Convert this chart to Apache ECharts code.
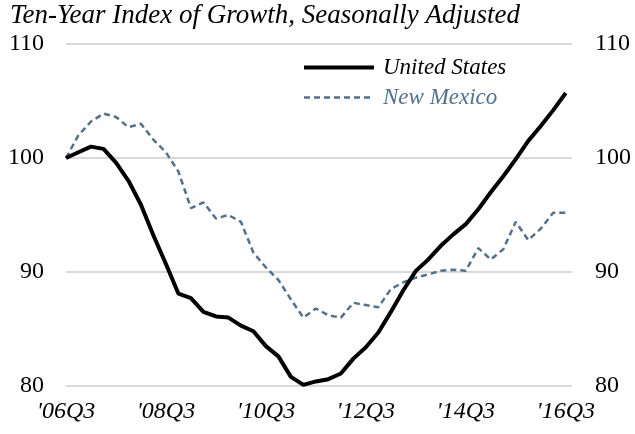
<!DOCTYPE html>
<html>
<head>
<meta charset="utf-8">
<script src="https://cdn.jsdelivr.net/npm/echarts@6/dist/echarts.min.js"></script>
<style>
	html, body { margin: 0; padding: 0; background: #fff; }
	#chart { width: 635px; height: 434px; }
</style>
</head>
<body>
<div id="chart"></div>
<script>
// quarters '06Q3 .. '16Q3
var quarters = [];
for (var y = 6; y <= 16; y++) {
	for (var q = 1; q <= 4; q++) {
		if ((y === 6 && q < 3) || (y === 16 && q > 3)) continue;
		quarters.push("'" + (y < 10 ? '0' + y : y) + 'Q' + q);
	}
}
var unitedStates = [100.0, 100.5, 101.0, 100.8, 99.6, 98.0, 95.9, 93.2, 90.7, 88.1,
	87.7, 86.5, 86.1, 86.0, 85.3, 84.8, 83.5, 82.6, 80.8, 80.1,
	80.4, 80.6, 81.1, 82.4, 83.4, 84.7, 86.5, 88.4, 90.1, 91.1,
	92.3, 93.3, 94.2, 95.5, 97.0, 98.4, 99.9, 101.5, 102.8, 104.2, 105.7];
var newMexico = [100.0, 102.0, 103.2, 103.9, 103.6, 102.7, 103.0, 101.6, 100.5, 98.8,
	95.6, 96.1, 94.7, 95.0, 94.4, 91.7, 90.4, 89.3, 87.6, 86.0,
	86.8, 86.2, 86.0, 87.3, 87.1, 86.9, 88.5, 89.1, 89.5, 89.8,
	90.1, 90.2, 90.1, 92.1, 91.1, 92.0, 94.4, 92.8, 93.8, 95.2, 95.2];
var yTicks = [80, 90, 100, 110];

function pairs(arr) {
	return arr.map(function (v, i) { return [i, v]; });
}

var serif = "'Liberation Serif', 'Times New Roman', serif";
var chart = echarts.init(document.getElementById('chart'));
var option = {
	animation: false,
	title: {
		text: 'Ten-Year Index of Growth, Seasonally Adjusted',
		left: 10,
		top: 0,
		padding: [2, 0, 0, 0],
		textStyle: { fontFamily: serif, fontStyle: 'italic', fontWeight: 'normal', fontSize: 27, color: '#000' }
	},
	legend: {
		orient: 'vertical',
		left: 302,
		top: 56,
		padding: 0,
		itemWidth: 70,
		itemHeight: 14,
		itemGap: 7,
		itemStyle: { opacity: 0 },
		data: [
			{ name: 'United States', textStyle: { color: '#000' }, lineStyle: { width: 4 } },
			{ name: 'New Mexico', textStyle: { color: '#4f7195' }, lineStyle: { width: 2.5 } }
		],
		textStyle: { fontFamily: serif, fontStyle: 'italic', fontSize: 23, padding: [0, 0, 0, 4] }
	},
	grid: { left: 66, right: 63, top: 44, bottom: 48 },
	xAxis: {
		type: 'value',
		min: 0,
		max: 40.5,
		interval: 8,
		axisLine: { show: false },
		axisTick: { show: false },
		splitLine: { show: false },
		axisLabel: {
			margin: 14,
			fontFamily: serif,
			fontStyle: 'italic',
			fontSize: 24,
			color: '#000',
			formatter: function (v) { return quarters[v] || ''; }
		}
	},
	yAxis: [
		{
			type: 'value',
			min: yTicks[0],
			max: yTicks[yTicks.length - 1],
			interval: 10,
			axisLine: { show: false },
			axisTick: { show: false },
			axisLabel: { fontFamily: serif, fontSize: 24, color: '#000', margin: 22 },
			splitLine: { lineStyle: { color: '#d9d9d9', width: 2 } }
		},
		{
			type: 'value',
			position: 'right',
			min: yTicks[0],
			max: yTicks[yTicks.length - 1],
			interval: 10,
			axisLine: { show: false },
			axisTick: { show: false },
			axisLabel: { fontFamily: serif, fontSize: 24, color: '#000', margin: 23 },
			splitLine: { show: false }
		}
	],
	series: [
		{
			name: 'United States',
			type: 'line',
			data: pairs(unitedStates),
			symbol: 'none',
			lineStyle: { color: '#000', width: 4 },
			itemStyle: { color: '#000' },
			z: 3
		},
		{
			name: 'New Mexico',
			type: 'line',
			data: pairs(newMexico),
			symbol: 'none',
			lineStyle: { color: '#4f7195', width: 2.5, type: [6, 4] },
			itemStyle: { color: '#4f7195' },
			z: 2
		}
	]
};
chart.setOption(option);
</script>
</body>
</html>
